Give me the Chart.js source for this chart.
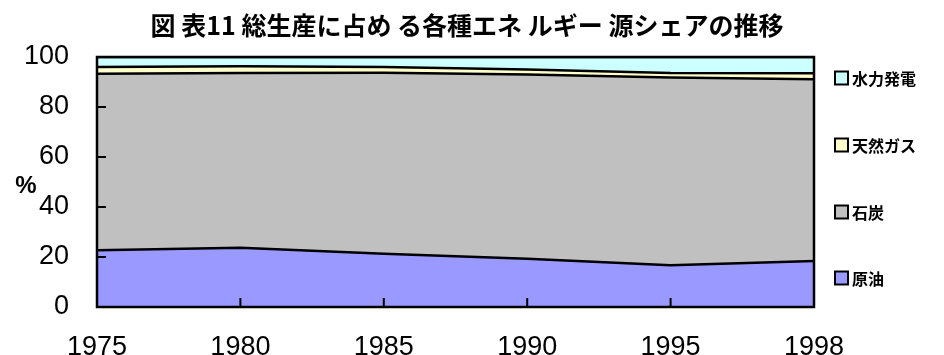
<!DOCTYPE html>
<html>
<head>
<meta charset="utf-8">
<script src="https://cdn.jsdelivr.net/npm/chart.js@4/dist/chart.umd.min.js"></script>
<style>
  html, body { margin: 0; padding: 0; background: #fff; }
  #wrap { width: 944px; height: 355px; }
</style>
</head>
<body>
<div id="wrap"><canvas id="shareChart"></canvas></div>
<script>
// 総生産に占める各種エネルギー源シェア (%)
const years = ['1975', '1980', '1985', '1990', '1995', '1998'];
const oil   = [22.7, 23.7, 21.3, 19.3, 16.7, 18.4];
const coal  = [70.6, 69.9, 72.4, 73.7, 75.1, 72.7];
const gas   = [2.7, 2.7, 2.3, 2.0, 1.8, 2.4];
const hydro = [4.0, 3.7, 4.0, 5.0, 6.4, 6.5];
const yTicks = [0, 20, 40, 60, 80, 100];
const titleText = '図 表11 総生産に占め る各種エネ ルギー 源シェアの推移';

const jpFont = '"Noto Sans CJK JP", sans-serif';
const numFont = '"Liberation Sans", Arial, sans-serif';

// タイトル、内向きの目盛り線、枠線、「%」、凡例
const framePlugin = {
    id: 'frame',
    afterDatasetsDraw(chart) {
        const ctx = chart.ctx;
        const area = chart.chartArea;
        const xs = chart.scales.x;
        const ys = chart.scales.y;
        ctx.save();
        ctx.strokeStyle = '#000';
        ctx.lineWidth = 2;
        ctx.beginPath();
        yTicks.slice(1, -1).forEach(v => {
            const py = ys.getPixelForValue(v);
            ctx.moveTo(area.left, py);
            ctx.lineTo(area.left + 9, py);
        });
        years.slice(1, -1).forEach((y, i) => {
            const px = xs.getPixelForValue(i + 1);
            ctx.moveTo(px, area.bottom);
            ctx.lineTo(px, area.bottom - 9);
        });
        ctx.stroke();
        ctx.lineWidth = 2.5;
        ctx.strokeRect(area.left, area.top, area.right - area.left, area.bottom - area.top);

        ctx.fillStyle = '#000';
        ctx.textAlign = 'center';
        ctx.textBaseline = 'middle';
        ctx.font = 'bold 25px ' + jpFont;
        ctx.fillText(titleText, 467, 25);

        ctx.font = 'bold 24px ' + numFont;
        ctx.fillText('%', 26, 186);

        // 凡例（上から水力発電→原油）
        const rows = [78, 145, 212, 278];
        const sets = chart.data.datasets.slice().reverse();
        ctx.font = 'bold 16px ' + jpFont;
        ctx.textAlign = 'left';
        sets.forEach((d, i) => {
            const cy = rows[i];
            ctx.fillStyle = d.backgroundColor;
            ctx.fillRect(835, cy - 6.5, 13, 13);
            ctx.lineWidth = 2;
            ctx.strokeStyle = '#000';
            ctx.strokeRect(835, cy - 6.5, 13, 13);
            ctx.fillStyle = '#000';
            ctx.fillText(d.label, 852, cy + 1);
        });
        ctx.restore();
    }
};

const ctx = document.getElementById('shareChart').getContext('2d');
new Chart(ctx, {
    type: 'line',
    data: {
        labels: years,
        datasets: [
            { label: '原油', data: oil, backgroundColor: '#9999FF', fill: 'origin' },
            { label: '石炭', data: coal, backgroundColor: '#C0C0C0', fill: '-1' },
            { label: '天然ガス', data: gas, backgroundColor: '#FFFFCC', fill: '-1' },
            { label: '水力発電', data: hydro, backgroundColor: '#CCFFFF', fill: '-1' }
        ].map(d => Object.assign(d, {
            borderColor: '#000',
            borderWidth: 2.5,
            pointRadius: 0,
            tension: 0
        }))
    },
    options: {
        responsive: true,
        maintainAspectRatio: false,
        animation: false,
        layout: { padding: { top: 57, right: 130, left: 0, bottom: 0 } },
        scales: {
            x: {
                type: 'category',
                offset: false,
                grid: { display: false },
                border: { display: false },
                afterFit(scale) { scale.height = 48; },
                ticks: {
                    color: '#000',
                    font: { family: numFont, size: 27 },
                    padding: 16,
                    maxRotation: 0,
                    autoSkip: false
                }
            },
            y: {
                stacked: true,
                min: 0,
                max: 100,
                grid: { display: false },
                border: { display: false },
                afterFit(scale) { scale.width = 97; },
                ticks: {
                    stepSize: 20,
                    color: '#000',
                    font: { family: numFont, size: 27 },
                    padding: 20
                }
            }
        },
        plugins: {
            title: { display: false },
            legend: { display: false },
            tooltip: { enabled: false }
        }
    },
    plugins: [framePlugin]
});
</script>
</body>
</html>
